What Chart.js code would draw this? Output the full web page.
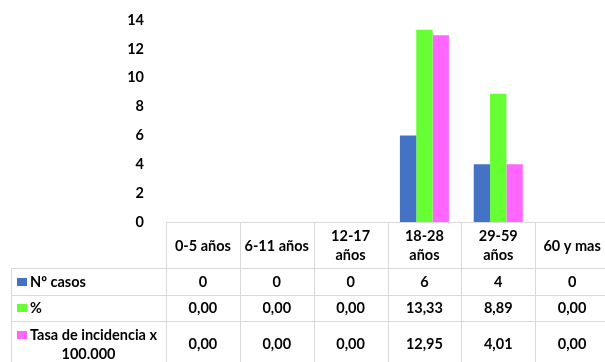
<!DOCTYPE html>
<html>
<head>
<meta charset="utf-8">
<script src="https://cdn.jsdelivr.net/npm/chart.js@4.4.1/dist/chart.umd.min.js"></script>
<style>
  html, body { margin: 0; padding: 0; background: #fff; overflow: hidden; }
  #wrap { width: 605px; height: 362px; overflow: hidden; }
</style>
</head>
<body>
<div id="wrap"><canvas id="c" width="609" height="362"></canvas></div>
<script>
// ---- data ----
const categories = [["0-5 años"], ["6-11 años"], ["12-17", "años"], ["18-28", "años"], ["29-59", "años"], ["60 y mas"]];
const seriesNames = ["Nº casos", "%", "Tasa de incidencia x 100.000"];
const casos = [0, 0, 0, 6, 4, 0];
const porcentaje = [0, 0, 0, 13.33, 8.89, 0];
const tasa = [0, 0, 0, 12.95, 4.01, 0];
const yTicks = [0, 2, 4, 6, 8, 10, 12, 14];

const colors = ["#4472C4", "#66FF33", "#FF66FF"];
const FAMILY = 'Lato, "Liberation Sans", sans-serif';
const FONT = 'bold 14.5px ' + FAMILY;

const fmtInt = v => String(v);
const fmtDec = v => v.toFixed(2).replace('.', ',');

const tablePlugin = {
  id: 'dataTable',
  afterDraw(chart) {
    const ctx = chart.ctx;
    const xs = chart.scales.x;
    const top = chart.chartArea.bottom;
    const n = categories.length;
    const colW = xs.getPixelForValue(1) - xs.getPixelForValue(0);
    const left0 = xs.getPixelForValue(0) - colW / 2;
    const rightEnd = xs.getPixelForValue(n - 1) + colW / 2;
    const tableLeft = 11;
    const H = chart.height;
    const rowTops = [top + 46, top + 73, top + 99, H];

    ctx.save();
    ctx.strokeStyle = '#d9d9d9';
    ctx.lineWidth = 1;
    ctx.beginPath();
    ctx.moveTo(left0, Math.round(top) + 0.5);
    ctx.lineTo(rightEnd, Math.round(top) + 0.5);
    for (let i = 0; i <= n; i++) {
      const x = Math.round(left0 + i * colW) + 0.5;
      ctx.moveTo(x, top);
      ctx.lineTo(x, H);
    }
    for (let r = 0; r < 3; r++) {
      const y = Math.round(rowTops[r]) + 0.5;
      ctx.moveTo(tableLeft, y);
      ctx.lineTo(rightEnd, y);
    }
    ctx.moveTo(tableLeft + 0.5, rowTops[0]);
    ctx.lineTo(tableLeft + 0.5, H);
    ctx.stroke();

    ctx.font = FONT;
    ctx.fillStyle = '#000';
    ctx.textBaseline = 'middle';
    ctx.textAlign = 'center';
    // header
    const headerMid = (top + rowTops[0]) / 2 + 1;
    categories.forEach((lines, i) => {
      const cx = xs.getPixelForValue(i);
      const lh = 19;
      const start = headerMid - (lines.length - 1) * lh / 2;
      lines.forEach((t, k) => ctx.fillText(t, cx, start + k * lh));
    });

    // rows
    const rows = [
      { values: casos, fmt: fmtInt, mid: top + 60, lineYs: [top + 60] },
      { values: porcentaje, fmt: fmtDec, mid: top + 86, lineYs: [top + 86] },
      { values: tasa, fmt: fmtDec, mid: top + 122.5, lineYs: [top + 113, top + 132] }
    ];
    const labelX = 30;
    const maxW = left0 - labelX - 2;
    rows.forEach((row, r) => {
      const words = seriesNames[r].split(' ');
      const lines = [];
      let cur = '';
      words.forEach(w => {
        const test = cur ? cur + ' ' + w : w;
        if (ctx.measureText(test).width > maxW && cur) { lines.push(cur); cur = w; }
        else cur = test;
      });
      if (cur) lines.push(cur);
      const ly = row.lineYs;
      ctx.fillStyle = colors[r];
      ctx.fillRect(17, Math.round(ly[0]) - 4, 10, 8);
      ctx.fillStyle = '#000';
      lines.forEach((t, k) => {
        const y = ly[Math.min(k, ly.length - 1)] + (k >= ly.length ? 19 * (k - ly.length + 1) : 0);
        if (k === 0) { ctx.textAlign = 'left'; ctx.fillText(t, labelX, y); }
        else { ctx.textAlign = 'center'; ctx.fillText(t, (tableLeft + left0) / 2, y); }
      });
      ctx.textAlign = 'center';
      row.values.forEach((v, i) => {
        ctx.fillText(row.fmt(v), xs.getPixelForValue(i), row.mid);
      });
    });
    ctx.restore();
  }
};

new Chart(document.getElementById('c'), {
  type: 'bar',
  data: {
    labels: categories.map(c => c.join(' ')),
    datasets: [
      { label: seriesNames[0], data: casos, backgroundColor: colors[0] },
      { label: seriesNames[1], data: porcentaje, backgroundColor: colors[1] },
      { label: seriesNames[2], data: tasa, backgroundColor: colors[2] }
    ]
  },
  options: {
    responsive: false,
    animation: false,
    devicePixelRatio: 1,
    layout: { padding: { top: 20, bottom: 140, left: 0, right: 0 } },
    datasets: { bar: { categoryPercentage: 0.664, barPercentage: 1.0 } },
    plugins: { legend: { display: false }, tooltip: { enabled: false } },
    scales: {
      x: { display: false, offset: true },
      y: {
        min: 0, max: 14,
        afterFit(scale) { scale.width = 166; scale.paddingTop = 0; },
        afterBuildTicks(scale) { scale.ticks = yTicks.map(v => ({ value: v })); },
        grid: { display: false },
        border: { display: false },
        ticks: { padding: 14, color: '#000', font: { family: FAMILY, size: 14.5, weight: 'bold' } }
      }
    }
  },
  plugins: [tablePlugin]
});
</script>
</body>
</html>
